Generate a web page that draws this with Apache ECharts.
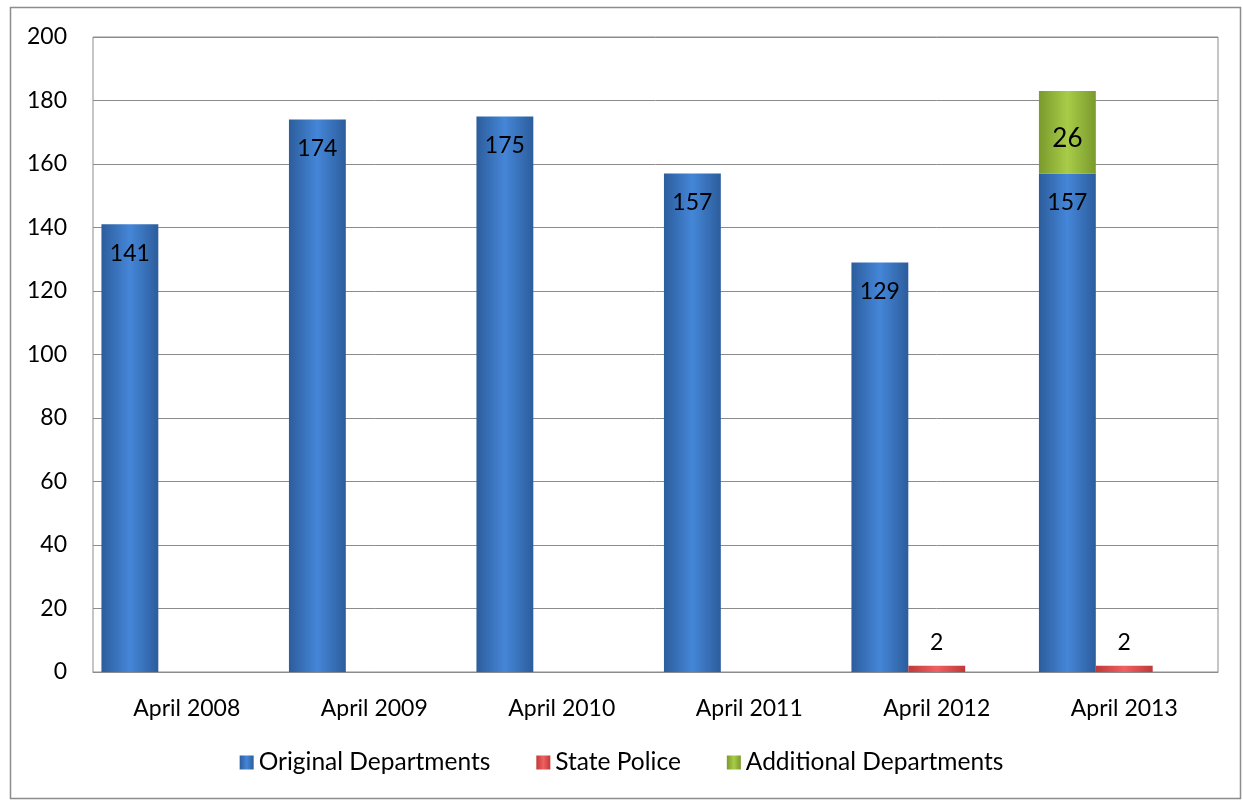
<!DOCTYPE html>
<html><head><meta charset="utf-8">
<script src="https://cdn.jsdelivr.net/npm/echarts@6/dist/echarts.min.js"></script>
<style>html,body{margin:0;padding:0;background:#fff}#c{width:1243px;height:800px}</style>
</head><body><div id="c"></div>
<script>
const categories = ['April 2008','April 2009','April 2010','April 2011','April 2012','April 2013'];
const originalDepts = [141,174,175,157,129,157];
const statePolice = [null,null,null,null,2,2];
const additionalDepts = [null,null,null,null,null,26];
const yTicks = {min:0,max:200,interval:20};

function grad(edge, mid){
  return new echarts.graphic.LinearGradient(0,0,1,0,[
    {offset:0,color:edge},{offset:0.5,color:mid},{offset:1,color:edge}]);
}
const FONT = 'Lato';
const FS = 23;
const chart = echarts.init(document.getElementById('c'));
chart.setOption({
  animation:false,
  textStyle:{fontFamily:FONT},
  graphic:[{type:'rect',shape:{x:10.5,y:7.5,width:1230,height:791},style:{fill:'none',stroke:'#8c8c8c',lineWidth:1.5},z:-1}],
  grid:{left:93,right:25,top:37,bottom:128,show:true,borderColor:'#8c8c8c',borderWidth:1},
  legend:{bottom:20,left:'center',itemWidth:14,itemHeight:14,itemGap:46,icon:'rect',
    textStyle:{fontSize:24.5,color:'#000',fontFamily:FONT},
    data:['Original Departments','State Police','Additional Departments']},
  xAxis:{type:'category',data:categories,axisTick:{show:false},
    axisLine:{lineStyle:{color:'#8c8c8c'}},
    axisLabel:{fontSize:FS,color:'#000',margin:25,fontFamily:FONT}},
  yAxis:{type:'value',min:yTicks.min,max:yTicks.max,interval:yTicks.interval,
    axisLine:{show:false},axisTick:{show:false},
    splitLine:{lineStyle:{color:'#8c8c8c',width:1}},
    axisLabel:{fontSize:FS,color:'#000',margin:26,fontFamily:FONT}},
  series:[
    {name:'Original Departments',type:'bar',stack:'a',data:originalDepts,
     barCategoryGap:'9%',barGap:'0%',
     itemStyle:{color:grad('#2c5d9c','#4586d8')},
     label:{show:true,position:'insideTop',distance:18,fontSize:FS,color:'#000',fontFamily:FONT}},
    {name:'State Police',type:'bar',stack:'b',data:statePolice,
     itemStyle:{color:grad('#c0393a','#f06060')},
     label:{show:true,position:'top',distance:12,fontSize:FS,color:'#000',fontFamily:FONT}},
    {name:'Additional Departments',type:'bar',stack:'a',data:additionalDepts,
     itemStyle:{color:grad('#7a9a2c','#a8cc48')},
     label:{show:true,position:'inside',offset:[0,6],fontSize:26,color:'#000',fontFamily:FONT}},
    {name:'_slot',type:'bar',stack:'c',data:[],silent:true}
  ]
});
</script></body></html>
